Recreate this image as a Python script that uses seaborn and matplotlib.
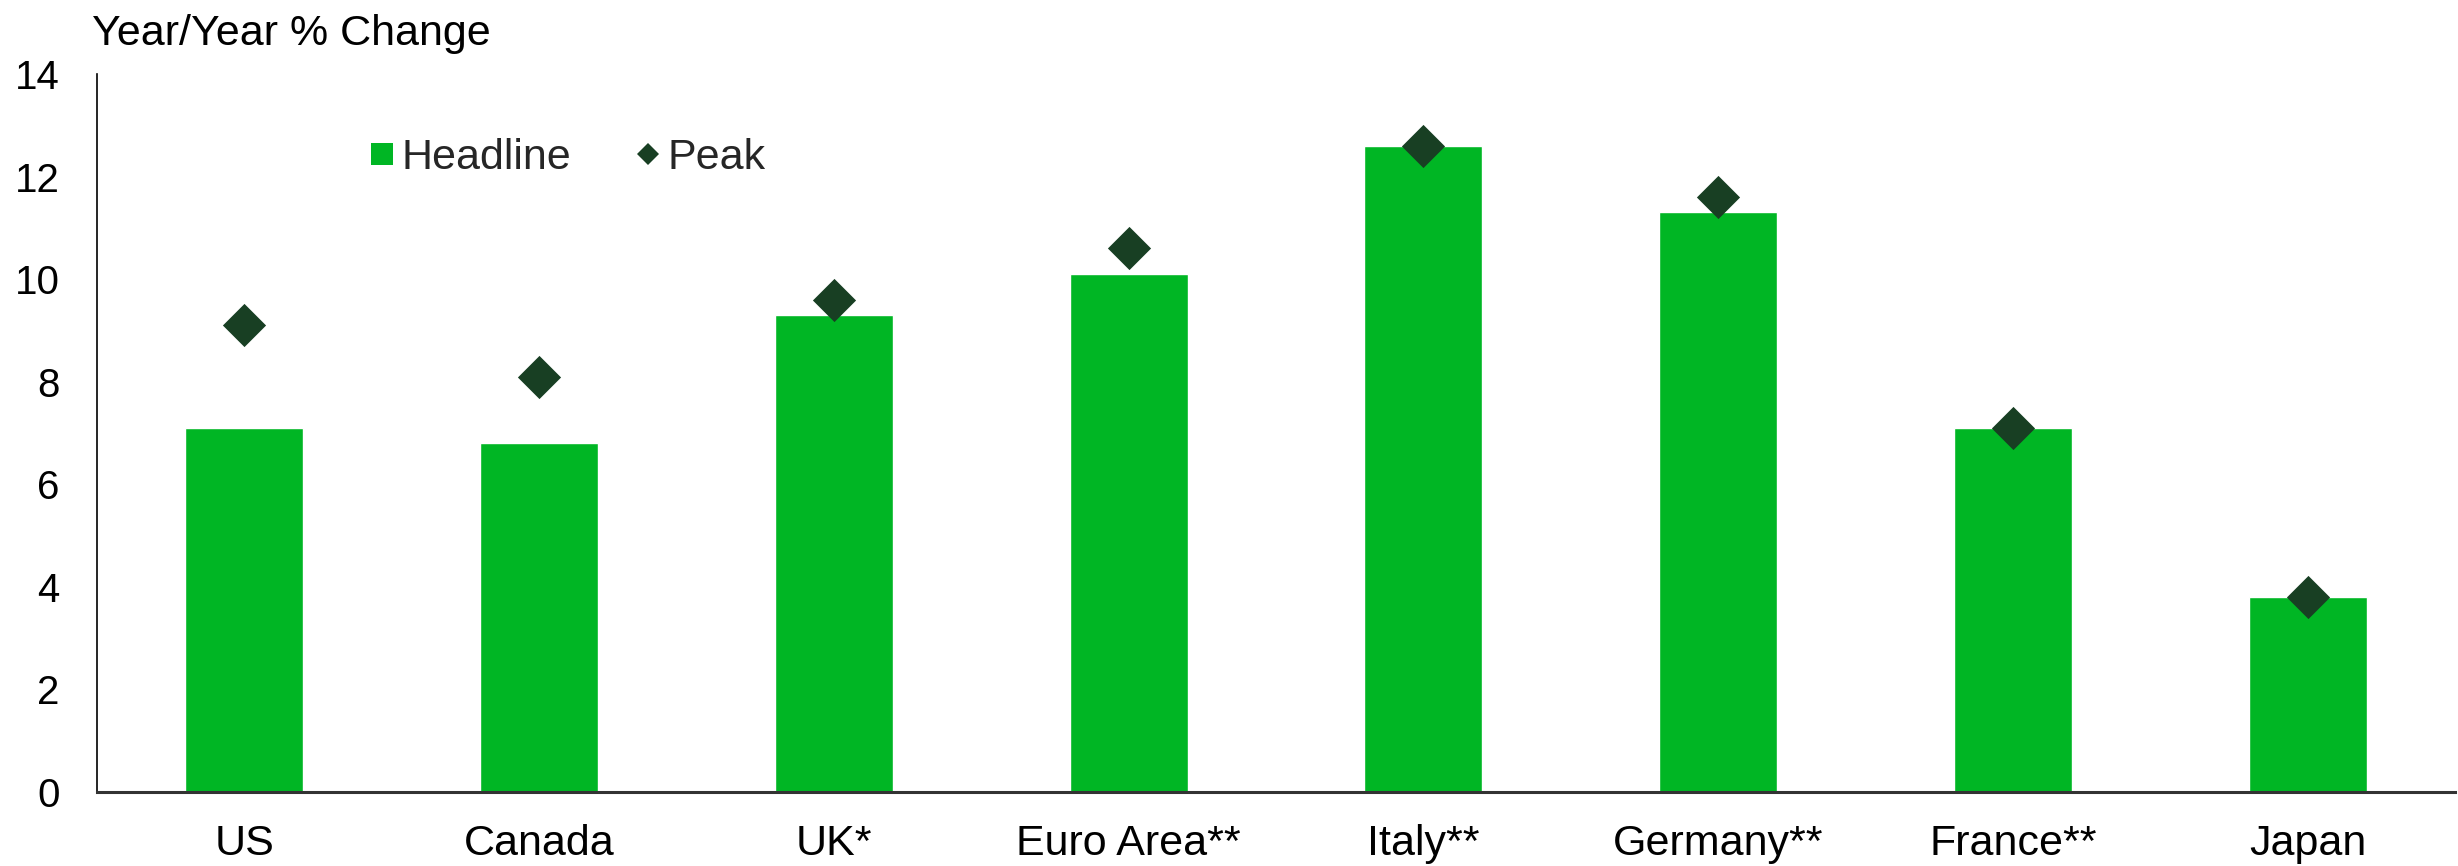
import matplotlib
matplotlib.use("Agg")
import matplotlib.pyplot as plt
from matplotlib.lines import Line2D
import seaborn as sns
import pandas as pd

categories = ["US", "Canada", "UK*", "Euro Area**", "Italy**", "Germany**", "France**", "Japan"]
headline = [7.1, 6.8, 9.3, 10.1, 12.6, 11.3, 7.1, 3.8]
peak = [9.1, 8.1, 9.6, 10.6, 12.6, 11.6, 7.1, 3.8]
y_ticks = [0, 2, 4, 6, 8, 10, 12, 14]
title_text = "Year/Year % Change"

BAR_COLOR = "#00B624"
PEAK_COLOR = "#183F23"

sns.set_theme(style="white")
plt.rcParams["font.family"] = ["Liberation Sans", "DejaVu Sans"]

df = pd.DataFrame({"country": categories, "headline": headline, "peak": peak})

fig = plt.figure(figsize=(24.58, 8.66), dpi=100)
ax = fig.add_axes([97 / 2458, 1 - 792 / 866, (2455 - 97) / 2458, (792 - 74) / 866])

sns.barplot(data=df, x="country", y="headline", color=BAR_COLOR, width=0.4,
            saturation=1, ax=ax, zorder=2)
sns.stripplot(data=df, x="country", y="peak", color=PEAK_COLOR, marker="D",
              size=22, jitter=False, linewidth=0, ax=ax, zorder=3)

ax.set_xlim(-0.5, len(categories) - 0.5)
ax.set_ylim(0, 14)
ax.set_yticks(y_ticks)
ax.set_xlabel("")
ax.set_ylabel("")
ax.tick_params(axis="y", length=0, pad=27, labelsize=29, labelcolor="black")
ax.tick_params(axis="x", length=0, pad=23, labelsize=31, labelcolor="black")

for side in ["top", "right"]:
    ax.spines[side].set_visible(False)
ax.spines["left"].set_color("black")
ax.spines["left"].set_linewidth(1.2)
ax.spines["bottom"].set_color("#333333")
ax.spines["bottom"].set_linewidth(2.2)
ax.spines["bottom"].set_zorder(4)

handles = [
    Line2D([], [], linestyle="none", marker="s", markersize=16,
           markerfacecolor=BAR_COLOR, markeredgewidth=0, label="Headline"),
    Line2D([], [], linestyle="none", marker="D", markersize=11.5,
           markerfacecolor=PEAK_COLOR, markeredgewidth=0, label="Peak"),
]
ax.legend(handles=handles, ncol=2, frameon=False, fontsize=31,
          loc="center left", bbox_to_anchor=(0.108, 0.883),
          handlelength=0.6, handletextpad=0.15, columnspacing=1.5,
          borderaxespad=0)

fig.text(92 / 2458, 1 - 45 / 866, title_text, fontsize=31, ha="left",
         va="baseline", color="black")

fig.savefig("out.png", dpi=100)
